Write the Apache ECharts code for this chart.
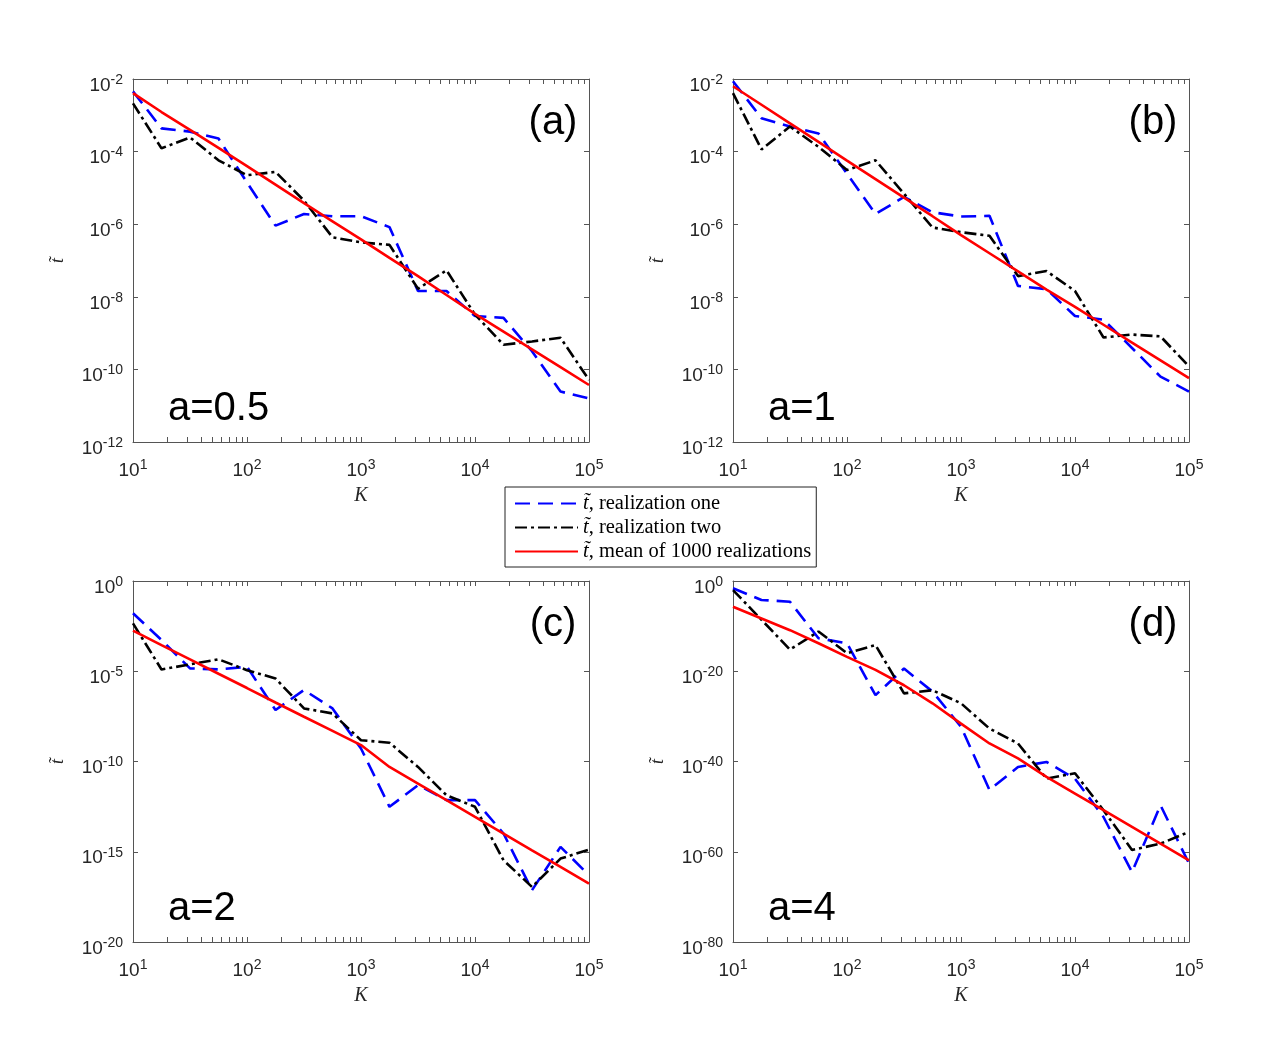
<!DOCTYPE html>
<html>
<head>
<meta charset="utf-8">
<script src="https://cdn.jsdelivr.net/npm/echarts@6/dist/echarts.min.js"></script>
<style>
html,body{margin:0;padding:0;background:#fff;}
#chart{width:1275px;height:1058px;}
</style>
</head>
<body>
<div id="chart"></div>
<script>
// K values (x), 4 points per decade
const K = [10, 17.78, 31.62, 56.23, 100, 177.8, 316.2, 562.3, 1000, 1778, 3162, 5623, 10000, 17783, 31623, 56234, 100000];

// log10 of t~
// panel (a) a=0.5
const a05_one  = [-2.34, -3.36, -3.45, -3.64, -4.85, -6.04, -5.72, -5.78, -5.78, -6.08, -7.84, -7.84, -8.53, -8.58, -9.50, -10.61, -10.80];
const a05_two  = [-2.67, -3.91, -3.61, -4.24, -4.65, -4.56, -5.35, -6.36, -6.50, -6.57, -7.78, -7.27, -8.49, -9.32, -9.23, -9.13, -10.29];
const a05_mean = [-2.39, -2.91, -3.40, -3.90, -4.40, -4.91, -5.42, -5.92, -6.42, -6.93, -7.43, -7.95, -8.47, -8.96, -9.45, -9.94, -10.43];
// panel (b) a=1
const a1_one   = [-2.06, -3.08, -3.31, -3.50, -4.61, -5.72, -5.25, -5.67, -5.79, -5.77, -7.70, -7.79, -8.53, -8.63, -9.41, -10.20, -10.61];
const a1_two   = [-2.39, -3.94, -3.31, -3.87, -4.51, -4.24, -5.16, -6.09, -6.22, -6.32, -7.43, -7.29, -7.84, -9.12, -9.04, -9.09, -9.92];
const a1_mean  = [-2.20, -2.71, -3.22, -3.73, -4.25, -4.76, -5.27, -5.78, -6.30, -6.80, -7.30, -7.80, -8.28, -8.77, -9.26, -9.75, -10.24];
// panel (c) a=2
const a2_one   = [-1.79, -3.27, -4.84, -4.90, -4.75, -7.15, -6.04, -7.06, -9.28, -12.51, -11.31, -12.14, -12.14, -13.99, -17.13, -14.73, -16.30];
const a2_two   = [-2.35, -4.90, -4.62, -4.34, -4.94, -5.40, -7.06, -7.34, -8.82, -8.96, -10.30, -11.87, -12.51, -15.47, -16.95, -15.38, -14.88];
const a2_mean  = [-2.75, -3.55, -4.34, -5.14, -5.93, -6.73, -7.52, -8.30, -9.09, -10.30, -11.22, -12.14, -13.07, -13.99, -14.92, -15.84, -16.77];
// panel (d) a=4
const a4_one   = [-1.6, -4.2, -4.6, -12.7, -13.8, -25.3, -19.4, -24.5, -32.3, -46.3, -41.2, -40.1, -43.8, -52.3, -64.5, -49.7, -62.6];
const a4_two   = [-2.0, -8.6, -15.2, -11.2, -16.0, -14.2, -24.9, -24.2, -27.1, -32.7, -36.0, -43.8, -42.6, -50.8, -59.6, -58.2, -55.6];
const a4_mean  = [-5.7, -8.3, -10.9, -13.8, -16.8, -19.7, -23.1, -27.1, -31.6, -36.0, -39.3, -43.4, -47.1, -50.8, -54.5, -58.2, -61.9];

// axis settings (exponents)
const yMinExp = [-12, -12, -20, -80];
const yMaxExp = [-2, -2, 0, 0];
const yStepExp = [2, 2, 5, 20];
const panelTags = ['(a)', '(b)', '(c)', '(d)'];
const panelA = ['a=0.5', 'a=1', 'a=2', 'a=4'];
const xMinorTicks = [20,30,40,50,60,70,80,90,100,200,300,400,500,600,700,800,900,1000,
  2000,3000,4000,5000,6000,7000,8000,9000,10000,20000,30000,40000,50000,60000,70000,80000,90000];
const legendNames = ['realization one', 'realization two', 'mean of 1000 realizations'];

const panels = [
  [a05_one, a05_two, a05_mean],
  [a1_one, a1_two, a1_mean],
  [a2_one, a2_two, a2_mean],
  [a4_one, a4_two, a4_mean]
];

const grids = [
  {left: 133, top: 79, width: 456, height: 363},
  {left: 733, top: 79, width: 456, height: 363},
  {left: 133, top: 581, width: 456, height: 361},
  {left: 733, top: 581, width: 456, height: 361}
];

const axisColor = '#555';
const textColor = '#262626';
const supRich = {
  b: {fontSize: 19, fontFamily: 'Liberation Sans', color: textColor},
  s: {fontSize: 14, fontFamily: 'Liberation Sans', color: textColor, padding: [0, 0, 11, 0]}
};
function supFmt(v) {
  const e = Math.round(Math.log10(v));
  return '{b|10}{s|' + e + '}';
}
function supFmtExp(v) {
  return '{b|10}{s|' + Math.round(v) + '}';
}

const xAxes = [], yAxes = [], series = [], graphics = [];
const styles = [
  {color: '#0000ff', type: [15, 8]},
  {color: '#000000', type: [12, 4, 3, 4]},
  {color: '#ff0000', type: 'solid'}
];

grids.forEach((g, gi) => {
  // panel (d) spans values down to 1e-80, which the log scale cannot round;
  // it is drawn on a linear axis of log10 values instead.
  const expAxis = yMinExp[gi] < -20;
  const yType = expAxis ? 'value' : 'log';
  const yMin = expAxis ? yMinExp[gi] : Math.pow(10, yMinExp[gi]);
  const yMax = expAxis ? yMaxExp[gi] : Math.pow(10, yMaxExp[gi]);
  const yExtra = expAxis ? {} : {logBase: 10};

  xAxes.push({
    type: 'log', logBase: 10, gridIndex: gi, position: 'bottom',
    min: 10, max: 100000, interval: 1,
    name: 'K', nameLocation: 'middle', nameGap: 44,
    nameTextStyle: {fontFamily: 'Liberation Serif', fontStyle: 'italic', fontSize: 20, color: textColor},
    axisLine: {show: true, onZero: false, lineStyle: {color: axisColor, width: 1}},
    axisTick: {show: true, inside: true, length: 5, customValues: xMinorTicks, lineStyle: {color: axisColor}},
    axisLabel: {show: true, margin: 16, formatter: supFmt, rich: supRich},
    splitLine: {show: false}
  });
  xAxes.push({
    type: 'log', logBase: 10, gridIndex: gi, position: 'top',
    min: 10, max: 100000, interval: 1,
    axisLine: {show: true, onZero: false, lineStyle: {color: axisColor, width: 1}},
    axisTick: {show: true, inside: true, length: 5, customValues: xMinorTicks, lineStyle: {color: axisColor}},
    axisLabel: {show: false},
    splitLine: {show: false}
  });
  yAxes.push(Object.assign({
    type: yType, gridIndex: gi, position: 'left',
    min: yMin, max: yMax, interval: yStepExp[gi],
    name: 't\u0303', nameLocation: 'middle', nameGap: 66,
    nameTextStyle: {fontFamily: 'Liberation Serif', fontStyle: 'italic', fontSize: 18, color: textColor},
    axisLine: {show: true, onZero: false, lineStyle: {color: axisColor, width: 1}},
    axisTick: {show: true, inside: true, length: 5, lineStyle: {color: axisColor}},
    axisLabel: {show: true, margin: 10, padding: [13, 0, 0, 0], formatter: expAxis ? supFmtExp : supFmt, rich: supRich},
    splitLine: {show: false}
  }, yExtra));
  yAxes.push(Object.assign({
    type: yType, gridIndex: gi, position: 'right',
    min: yMin, max: yMax, interval: yStepExp[gi],
    axisLine: {show: true, onZero: false, lineStyle: {color: axisColor, width: 1}},
    axisTick: {show: true, inside: true, length: 5, lineStyle: {color: axisColor}},
    axisLabel: {show: false},
    splitLine: {show: false}
  }, yExtra));
  panels[gi].forEach((arr, si) => {
    series.push({
      type: 'line', name: legendNames[si],
      xAxisIndex: gi * 2, yAxisIndex: gi * 2,
      symbol: 'none', showSymbol: false, animation: false,
      lineStyle: {color: styles[si].color, type: styles[si].type, width: 2.6},
      itemStyle: {color: styles[si].color},
      z: 2 + si,
      data: arr.map((e, i) => [K[i], expAxis ? e : Math.pow(10, e)])
    });
  });
  graphics.push({
    type: 'text', x: g.left + g.width - 36, y: g.top + 44,
    style: {text: panelTags[gi], font: '40px "Liberation Sans"', fill: '#000', align: 'center', verticalAlign: 'middle'}
  });
  graphics.push({
    type: 'text', x: g.left + 35, y: g.top + g.height - 33,
    style: {text: panelA[gi], font: '40px "Liberation Sans"', fill: '#000', align: 'left', verticalAlign: 'middle'}
  });
});

const chart = echarts.init(document.getElementById('chart'), null, {renderer: 'canvas'});
chart.setOption({
  animation: false,
  backgroundColor: '#fff',
  grid: grids.map(g => Object.assign({containLabel: false}, g)),
  xAxis: xAxes,
  yAxis: yAxes,
  legend: {
    show: true, left: 505, top: 487, orient: 'vertical',
    itemWidth: 63, itemHeight: 14, itemGap: 3,
    padding: [6, 5, 5, 9],
    borderColor: '#222', borderWidth: 1, backgroundColor: '#fff',
    selectedMode: false,
    data: legendNames,
    itemStyle: {opacity: 0},
    textStyle: {fontFamily: 'Liberation Serif', fontSize: 20.5, color: '#000',
      rich: {i: {fontFamily: 'Liberation Serif', fontStyle: 'italic', fontSize: 20.5, color: '#000'}}},
    formatter: name => '{i|t\u0303}, ' + name
  },
  graphic: graphics,
  series: series
});
</script>
</body>
</html>
